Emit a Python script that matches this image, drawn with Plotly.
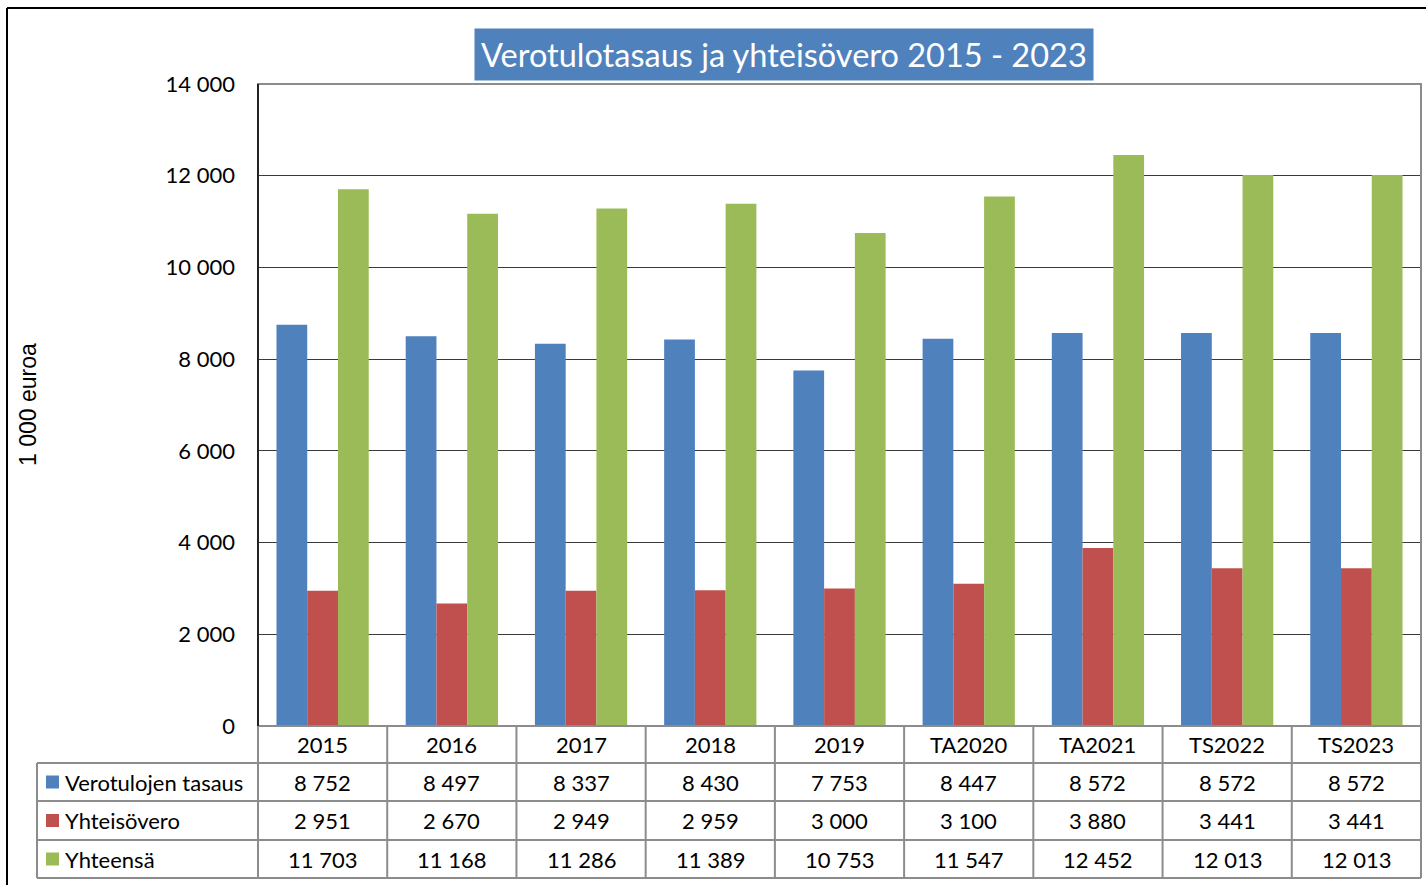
import plotly.graph_objects as go

categories = ["2015", "2016", "2017", "2018", "2019", "TA2020", "TA2021", "TS2022", "TS2023"]
verotulojen_tasaus = [8752, 8497, 8337, 8430, 7753, 8447, 8572, 8572, 8572]
yhteisovero = [2951, 2670, 2949, 2959, 3000, 3100, 3880, 3441, 3441]
yhteensa = [11703, 11168, 11286, 11389, 10753, 11547, 12452, 12013, 12013]
series_names = ["Verotulojen tasaus", "Yhteisövero", "Yhteensä"]
series_values = [verotulojen_tasaus, yhteisovero, yhteensa]
colors = ["#4F81BD", "#C0504D", "#9BBB59"]
title = "Verotulotasaus ja yhteisövero 2015 - 2023"
y_title = "1 000 euroa"

W, H = 1426, 885
L, R, T, B = 258, 1421, 84, 726
pw, ph = R - L, B - T

def px(x):
    return (x - L) / pw

def py(y):
    return (B - y) / ph

def fmt(v):
    return f"{v:,}".replace(",", " ")

FONT = "Lato"
fig = go.Figure()
for name, vals, c in zip(series_names, series_values, colors):
    fig.add_trace(go.Bar(x=categories, y=vals, name=name, marker=dict(color=c, line=dict(width=0))))

shapes = []
ann = []
gray = "#8c8c8c"
shapes.append(dict(type="rect", xref="paper", yref="paper", x0=0, x1=1, y0=0, y1=1,
                   line=dict(color=gray, width=2), layer="above"))
shapes.append(dict(type="line", xref="paper", yref="paper", x0=px(7), x1=px(1430), y0=py(8), y1=py(8),
                   line=dict(color="black", width=2)))
shapes.append(dict(type="line", xref="paper", yref="paper", x0=px(7), x1=px(7), y0=py(8), y1=py(890),
                   line=dict(color="black", width=2)))

rows_y = [726, 763, 801, 840, 878]
ncat = len(categories)
colw = pw / ncat
for i, yy in enumerate(rows_y):
    x0 = L if i == 0 else 37
    shapes.append(dict(type="line", xref="paper", yref="paper", x0=px(x0), x1=1, y0=py(yy), y1=py(yy),
                       line=dict(color=gray, width=2)))
for j in range(ncat + 1):
    xx = L + j * colw
    shapes.append(dict(type="line", xref="paper", yref="paper", x0=px(xx), x1=px(xx), y0=py(726), y1=py(878),
                       line=dict(color=gray, width=2)))
shapes.append(dict(type="line", xref="paper", yref="paper", x0=px(37), x1=px(37), y0=py(763), y1=py(878),
                   line=dict(color=gray, width=2)))
shapes.append(dict(type="line", xref="paper", yref="paper", x0=0, x1=0, y0=0, y1=1,
                   line=dict(color="black", width=1.5), layer="above"))

fs = 22
for j, c in enumerate(categories):
    ann.append(dict(x=j, xref="x", y=py((726 + 763) / 2), yref="paper", text=c, showarrow=False,
                    font=dict(family=FONT, size=fs, color="black"), xanchor="center", yanchor="middle"))
for i, (name, vals, col) in enumerate(zip(series_names, series_values, colors)):
    yc = (rows_y[i + 1] + rows_y[i + 2]) / 2
    for j, v in enumerate(vals):
        ann.append(dict(x=j, xref="x", y=py(yc), yref="paper", text=fmt(v), showarrow=False,
                        font=dict(family=FONT, size=fs, color="black"), xanchor="center", yanchor="middle"))
    shapes.append(dict(type="rect", xref="paper", yref="paper", x0=px(46), x1=px(59),
                       y0=py(yc - 6.5), y1=py(yc + 6.5), fillcolor=col, line=dict(width=0)))
    ann.append(dict(x=px(63), xref="paper", y=py(yc), yref="paper", text=name, showarrow=False,
                    font=dict(family=FONT, size=fs, color="black"), xanchor="left", yanchor="middle"))

ann.append(dict(x=px(783.5), xref="paper", y=py(54), yref="paper", text=title, showarrow=False,
                font=dict(family=FONT, size=32.5, color="white"), bgcolor="#4F81BD",
                xanchor="center", yanchor="middle", borderpad=6))
ann.append(dict(x=px(28), xref="paper", y=py(405), yref="paper", text=y_title, showarrow=False,
                textangle=-90, font=dict(family="Liberation Sans", size=23, color="black"),
                xanchor="center", yanchor="middle"))

fig.update_layout(
    width=W, height=H,
    margin=dict(l=L, r=W - R, t=T, b=H - B, autoexpand=False),
    paper_bgcolor="white", plot_bgcolor="white",
    barmode="group", bargap=0.286, bargroupgap=0,
    showlegend=False,
    separators=", ",
    shapes=shapes, annotations=ann,
    xaxis=dict(type="category", range=[-0.5, ncat - 0.5], showticklabels=False, showgrid=False,
               zeroline=False, showline=False, ticks=""),
    yaxis=dict(range=[0, 14000], dtick=2000, tickformat=",d", showgrid=True, gridcolor="#3a3a3a",
               gridwidth=1, zeroline=False, showline=False, ticks="", ticklabelstandoff=22,
               tickfont=dict(family=FONT, size=fs, color="black")),
)
fig.write_html("out.html", config={"displayModeBar": False},
               post_script="document.body.style.margin='0';document.body.style.overflow='hidden';")
